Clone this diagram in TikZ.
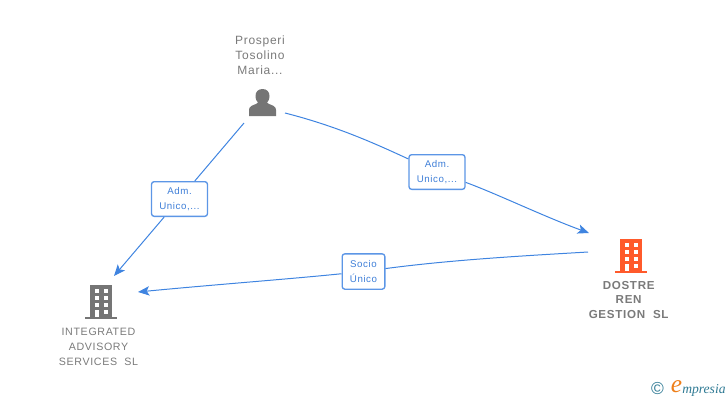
\documentclass[tikz,border=0pt]{standalone}
\usepackage{fontspec}
\setmainfont{Liberation Sans}
\newfontfamily\spacedfont[LetterSpace=6]{Liberation Sans}
\newfontfamily\logofont{Liberation Serif}
\usetikzlibrary{arrows.meta,positioning}
\definecolor{connblue}{HTML}{3F84E0}
\definecolor{boxblue}{HTML}{5C96E6}
\definecolor{textblue}{HTML}{3F7FD8}
\definecolor{icongray}{HTML}{757575}
\definecolor{labelgray}{HTML}{7A7A7A}
\definecolor{iconorange}{HTML}{FF5A2B}
\definecolor{logoteal}{HTML}{2F7A94}
\definecolor{logoorange}{HTML}{EE7F1A}
\tikzset{
  conn/.style={connblue, line width=0.75pt},
  tip/.style={-{Stealth[length=8.5pt,width=7pt,inset=2pt]}},
  rolebox/.style={draw=boxblue, line width=1pt, fill=white, rounded corners=2pt, inner sep=0pt,
    text=textblue, font=\spacedfont\fontsize{7.3}{11.2}\selectfont, align=center},
  namelabel/.style={text=labelgray, inner sep=0pt, align=center, font=\spacedfont\fontsize{8}{11.2}\selectfont},
  mainlabel/.style={text=labelgray, inner sep=0pt, align=center, font=\spacedfont\fontsize{8.7}{11.2}\selectfont},
  personlabel/.style={text=labelgray, inner sep=0pt, align=center, font=\spacedfont\fontsize{9}{11.4}\selectfont}
}
% building icon: #1 left edge of base, #2 top, #3 colour
\newcommand{\buildicon}[3]{
  \begin{scope}[shift={(#1,#2)}]
    \fill[#3] (5,0) rectangle (27,32);
    \fill[#3] (0,31.5) rectangle (32,34);
    \foreach \wy in {4,11,18} {
      \fill[white] (9.5,\wy) rectangle (13.5,\wy+4);
      \fill[white] (18.5,\wy) rectangle (22.5,\wy+4);
    }
    \fill[white] (9.5,24.5) rectangle (13.5,31.5);
    \fill[white] (18.5,24.5) rectangle (22.5,28.5);
  \end{scope}
}
\begin{document}
\begin{tikzpicture}[x=0.75pt,y=-0.75pt]
    \useasboundingbox (0,0) rectangle (728,400);

    % Person
    \fill[icongray] (249,116) -- (249,110) .. controls (249,106.5) and (252,105.5) .. (256,104)
      -- (258,102.5) .. controls (255.5,100) and (255.5,97) .. (255.5,96)
      .. controls (255.5,91.5) and (258.5,89) .. (262.5,89)
      .. controls (266.5,89) and (269.5,91.5) .. (269.5,96)
      .. controls (269.5,97) and (269.5,100) .. (267,102.5)
      -- (269,104) .. controls (273,105.5) and (276,106.5) .. (276,110) -- (276,116) -- cycle;
    \node[personlabel] (prosperi) at (260,55) {Prosperi\\Tosolino\\Maria...};

    % Companies
    \buildicon{85}{285}{icongray}
    \buildicon{615}{239}{iconorange}
    \node[namelabel] (integrated) at (98.5,346.5) {INTEGRATED\\ADVISORY\\SERVICES~~SL};
    \node[mainlabel] (dostre) at (629,300) {\textbf{DOSTRE}\\\textbf{REN}\\\textbf{GESTION~~SL}};

    % Role boxes
    \node[rolebox, minimum width=42pt, minimum height=26pt] (admleft) at (179.5,199) {Adm.\\Unico,...};
    \node[rolebox, minimum width=42pt, minimum height=26pt] (admright) at (437,172) {Adm.\\Unico,...};
    \node[rolebox, minimum width=32pt, minimum height=26.5pt] (socio) at (363.5,271.5) {Socio\\Único};

    % Ends of the connectors
    \coordinate (persleft) at (244,123);
    \coordinate (persright) at (285,113);
    \coordinate (integtop) at (114,276);
    \coordinate (integright) at (138,292);
    \coordinate (dostretop) at (589,233);
    \coordinate (dostreleft) at (588,252);

    % Connectors
    \draw[conn] (persleft) -- (admleft);
    \draw[conn, tip] (admleft) -- (integtop);
    \draw[conn] (persright) .. controls (340,127) and (380,146) .. (admright);
    \draw[conn, tip] (admright) .. controls (495,193) and (545,217) .. (dostretop);
    \draw[conn] (dostreleft) .. controls (520,256) and (450,260) .. (socio);
    \draw[conn, tip] (socio) .. controls (290,279) and (210,285) .. (integright);

    % Logo
    \node[text=logoteal, inner sep=0pt, font=\fontsize{13}{13}\selectfont] (copyr) at (657.5,389) {©};
    \node[text=logoorange, inner sep=0pt, font=\logofont\fontsize{19}{19}\selectfont\itshape] (logoe) at (676.5,387) {e};
    \node[text=logoteal, inner sep=0pt, anchor=west, font=\logofont\fontsize{10.2}{10}\selectfont\itshape] (logotext) at (682,390) {mpresia};
\end{tikzpicture}
\end{document}
